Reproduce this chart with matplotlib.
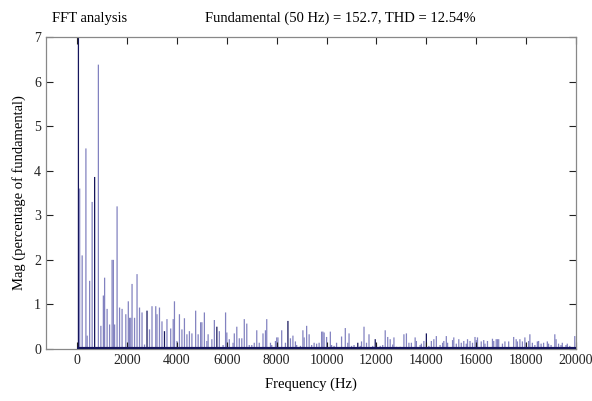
import matplotlib.pyplot as plt

# harmonic spectrum (Hz, % of fundamental)
freqs = [50, 100, 200, 350, 400, 500, 600, 700, 850, 950,
         1050, 1100, 1200, 1300, 1400, 1450, 1500, 1600, 1700, 1800,
         1950, 2050, 2100, 2150, 2200, 2300, 2400, 2500, 2600, 2700,
         2800, 2900, 3000, 3150, 3200, 3300, 3400, 3500, 3600, 3750,
         3850, 3900, 4000, 4100, 4200, 4300, 4400, 4500, 4600, 4750,
         4850, 4950, 5000, 5100, 5200, 5250, 5400, 5500, 5600, 5700,
         5850, 5950, 6000, 6100, 6250, 6300, 6400, 6500, 6600, 6700,
         6800, 6900, 7000, 7100, 7200, 7300, 7450, 7550, 7600, 7750,
         7800, 7950, 8000, 8050, 8200, 8350, 8450, 8550, 8650, 8750,
         8800, 8950, 9050, 9100, 9200, 9300, 9400, 9500, 9600, 9700,
         9800, 9850, 9900, 10000, 10150, 10200, 10300, 10400, 10600, 10750,
         10850, 10900, 11000, 11100, 11250, 11350, 11400, 11500, 11600, 11700,
         11850, 11950, 12000, 12150, 12250, 12350, 12450, 12550, 12650, 12700,
         12800, 12950, 13100, 13200, 13300, 13400, 13550, 13600, 13750, 13800,
         13900, 14000, 14100, 14200, 14300, 14400, 14550, 14650, 14700, 14800,
         14850, 15050, 15100, 15200, 15300, 15400, 15500, 15600, 15650, 15750,
         15850, 15950, 16000, 16050, 16200, 16300, 16350, 16450, 16650, 16700,
         16800, 16850, 16900, 17050, 17150, 17300, 17500, 17600, 17650, 17750,
         17850, 17950, 18000, 18100, 18150, 18250, 18350, 18450, 18500, 18600,
         18700, 18850, 18900, 19000, 19150, 19200, 19300, 19400, 19450, 19600,
         19650, 19750, 19950]
mags = [100.0, 3.6, 2.1, 4.5, 0.3, 1.53, 3.3, 3.86, 6.38, 0.52,
        1.2, 1.6, 0.9, 0.55, 2.0, 2.0, 0.55, 3.2, 0.93, 0.9,
        0.78, 1.07, 0.7, 0.7, 1.46, 0.7, 1.68, 0.93, 0.82, 0.1,
        0.86, 0.44, 0.96, 0.96, 0.78, 0.93, 0.62, 0.4, 0.67, 0.46,
        0.67, 1.07, 0.18, 0.78, 0.44, 0.69, 0.33, 0.4, 0.35, 0.86,
        0.33, 0.6, 0.6, 0.82, 0.18, 0.33, 0.22, 0.65, 0.5, 0.4,
        0.09, 0.82, 0.37, 0.22, 0.14, 0.35, 0.5, 0.24, 0.24, 0.67,
        0.57, 0.09, 0.09, 0.14, 0.42, 0.14, 0.35, 0.42, 0.67, 0.14,
        0.09, 0.18, 0.26, 0.26, 0.42, 0.14, 0.63, 0.24, 0.3, 0.17,
        0.09, 0.07, 0.42, 0.26, 0.52, 0.33, 0.09, 0.14, 0.12, 0.14,
        0.39, 0.39, 0.37, 0.27, 0.39, 0.09, 0.07, 0.14, 0.28, 0.47,
        0.14, 0.35, 0.07, 0.09, 0.14, 0.07, 0.17, 0.5, 0.14, 0.33,
        0.07, 0.22, 0.1, 0.07, 0.09, 0.42, 0.27, 0.22, 0.1, 0.26,
        0.05, 0.05, 0.33, 0.35, 0.14, 0.14, 0.26, 0.18, 0.09, 0.12,
        0.18, 0.35, 0.07, 0.18, 0.22, 0.29, 0.09, 0.14, 0.18, 0.29,
        0.14, 0.2, 0.26, 0.12, 0.22, 0.14, 0.18, 0.12, 0.22, 0.18,
        0.14, 0.27, 0.2, 0.26, 0.17, 0.2, 0.12, 0.18, 0.23, 0.18,
        0.22, 0.22, 0.22, 0.12, 0.17, 0.17, 0.27, 0.22, 0.17, 0.22,
        0.17, 0.26, 0.14, 0.18, 0.33, 0.14, 0.09, 0.17, 0.18, 0.12,
        0.14, 0.17, 0.12, 0.09, 0.33, 0.22, 0.12, 0.09, 0.14, 0.09,
        0.12, 0.07, 0.29]
dark_freqs = [50, 700, 2800, 3500, 5600, 8450, 11250, 11950, 14000]

xticks = list(range(0, 20001, 2000))
yticks = list(range(0, 8))

plt.rcParams['font.family'] = ['Liberation Serif', 'DejaVu Serif']

navy = '#15155c'
colors = [navy if f in dark_freqs else '#8282c0' for f in freqs]

fig = plt.figure(figsize=(5.92, 4.01), dpi=100)
ax = fig.add_axes([0.0777, 0.1297, 0.8953, 0.778])
bars = ax.bar(freqs, mags, width=50, color=colors, linewidth=0)
for b in bars:
    b.set_snap(False)
ax.hlines(0, 0, 20000, color=navy, lw=3, zorder=3)

ax.set_xlim(-1250, 20000)
ax.set_ylim(0, 7)
ax.set_xticks(xticks)
ax.set_yticks(yticks)
ax.tick_params(direction='in', top=True, right=True, length=5,
               width=0.8, labelsize=10, colors='#222222')
for s in ax.spines.values():
    s.set_color('#888888')
    s.set_linewidth(0.9)

ax.set_xlabel('Frequency (Hz)', fontsize=10.5, labelpad=8)
ax.set_ylabel('Mag (percentage of fundamental)', fontsize=10.5, labelpad=6)

fig.text(52 / 592, 0.955, 'FFT analysis', fontsize=10.5, va='center')
fig.text(340 / 592, 0.955, 'Fundamental (50 Hz) = 152.7, THD = 12.54%',
         fontsize=10.5, va='center', ha='center')

fig.savefig('out.png', dpi=100)
